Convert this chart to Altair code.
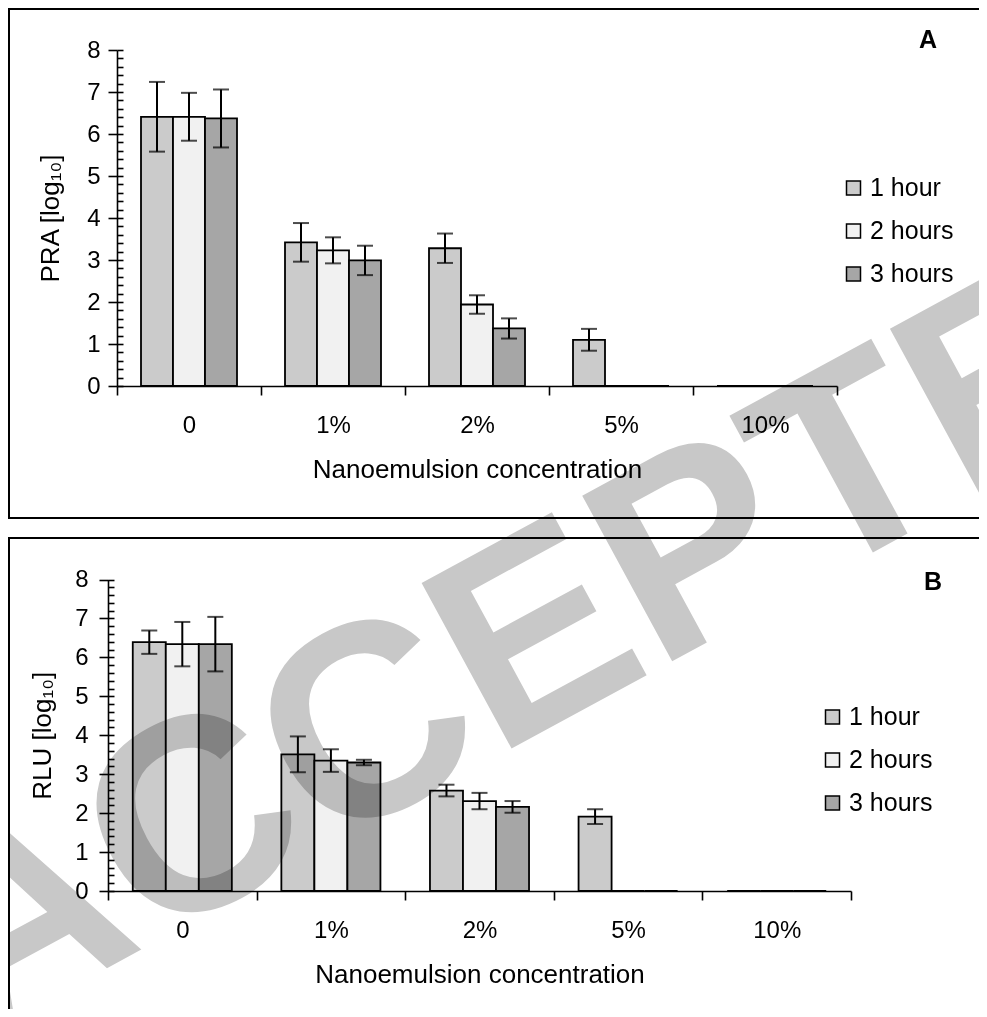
import altair as alt
import pandas as pd

# ---------------- data ----------------
conc = ["0", "1%", "2%", "5%", "10%"]
hours = ["1 hour", "2 hours", "3 hours"]

pra_1h = [6.41, 3.42, 3.28, 1.10, 0.0]
pra_2h = [6.41, 3.23, 1.94, 0.0, 0.0]
pra_3h = [6.37, 2.99, 1.37, 0.0, 0.0]
pra_err_1h = [0.83, 0.46, 0.35, 0.26, None]
pra_err_2h = [0.57, 0.31, 0.22, None, None]
pra_err_3h = [0.69, 0.35, 0.24, None, None]

rlu_1h = [6.39, 3.51, 2.58, 1.91, 0.0]
rlu_2h = [6.34, 3.35, 2.31, 0.0, 0.0]
rlu_3h = [6.34, 3.30, 2.16, 0.0, 0.0]
rlu_err_1h = [0.30, 0.46, 0.15, 0.19, None]
rlu_err_2h = [0.57, 0.29, 0.21, None, None]
rlu_err_3h = [0.70, 0.07, 0.15, None, None]

y_ticks = [0, 1, 2, 3, 4, 5, 6, 7, 8]
fills = ["#cbcbcb", "#f1f1f1", "#a6a6a6"]
FONT = "Liberation Sans"

W, H = 971, 1001


def frame(vals, errs):
    rows = []
    for h, vs, es in zip(hours, vals, errs):
        for c, v, e in zip(conc, vs, es):
            rows.append({
                "conc": c, "hours": h, "value": v,
                "lo": (v - e) if e is not None else None,
                "hi": (v + e) if e is not None else None,
            })
    return pd.DataFrame(rows)


df_a = frame([pra_1h, pra_2h, pra_3h], [pra_err_1h, pra_err_2h, pra_err_3h])
df_b = frame([rlu_1h, rlu_2h, rlu_3h], [rlu_err_1h, rlu_err_2h, rlu_err_3h])


def panel(df, xr, yr, x_off, y_off, ytitle, ylabpad, ytitlepad, legx, legy):
    base = alt.Chart(df)
    xs = alt.Scale(range=xr, paddingInner=0, paddingOuter=0)
    xo = alt.XOffset("hours:N", sort=hours,
                     scale=alt.Scale(paddingOuter=0.75, paddingInner=0))
    bars = base.mark_bar(stroke="black", strokeWidth=1.8).encode(
        x=alt.X("conc:N", sort=conc, scale=xs,
                axis=alt.Axis(orient="bottom", offset=x_off, tickBand="extent",
                              tickSize=9, labelAngle=0, labelPadding=18,
                              labelFontSize=24, title="Nanoemulsion concentration",
                              titleFontSize=26, titlePadding=19)),
        xOffset=xo,
        y=alt.Y("value:Q",
                scale=alt.Scale(domain=[0, 8], range=yr, nice=False, zero=True),
                axis=alt.Axis(orient="left", offset=y_off, values=y_ticks,
                              tickSize=9, labelPadding=ylabpad, labelFontSize=24,
                              title=ytitle, titleFontSize=26,
                              titlePadding=ytitlepad)),
        fill=alt.Fill("hours:N", sort=hours,
                      scale=alt.Scale(domain=hours, range=fills),
                      legend=alt.Legend(title=None, orient="none", direction="vertical",
                                        legendX=legx, legendY=legy,
                                        symbolType="square", symbolSize=196,
                                        symbolStrokeColor="black",
                                        symbolStrokeWidth=1.5,
                                        labelFontSize=25, labelOffset=4,
                                        rowPadding=17, padding=0)),
    )
    ok = base.transform_filter("isValid(datum.lo)")
    err = ok.mark_rule(color="black", strokeWidth=2).encode(
        x=alt.X("conc:N", sort=conc, axis=None),
        xOffset=xo,
        y=alt.Y("lo:Q",
                axis=alt.Axis(orient="right", offset=xr[0] - W, tickCount=40,
                              labels=False, domain=False, tickSize=6,
                              title=None, grid=False)),
        y2="hi:Q",
    )
    cap_lo = ok.mark_tick(color="black", thickness=2, size=16,
                          orient="horizontal").encode(
        x=alt.X("conc:N", sort=conc, axis=None), xOffset=xo,
        y=alt.Y("lo:Q", axis=None))
    cap_hi = ok.mark_tick(color="black", thickness=2, size=16,
                          orient="horizontal").encode(
        x=alt.X("conc:N", sort=conc, axis=None), xOffset=xo,
        y=alt.Y("hi:Q", axis=None))
    return alt.layer(bars, err, cap_lo, cap_hi).resolve_axis(
        x="independent", y="independent")


panel_a = panel(df_a, [109, 829], [378, 42], 378 - H, -109,
                "PRA [log₁₀]", 8, 23, 833, 167.5)
panel_b = panel(df_b, [100, 843], [883, 571.5], 883 - H, -100,
                "RLU [log₁₀]", 11, 19, 812, 696.5)

one = pd.DataFrame({"k": [0]})
box_a = alt.Chart(one).mark_rect(fill=None, stroke="black", strokeWidth=2).encode(
    x=alt.value(1), x2=alt.value(W + 20), y=alt.value(1), y2=alt.value(510))
box_b = alt.Chart(one).mark_rect(fill=None, stroke="black", strokeWidth=2).encode(
    x=alt.value(1), x2=alt.value(W + 20), y=alt.value(530), y2=alt.value(H + 20))

lab_a = alt.Chart(pd.DataFrame({"t": ["A"]})).mark_text(
    fontSize=25, fontWeight="bold", align="center", baseline="middle",
    color="black").encode(text="t:N", x=alt.value(920), y=alt.value(32))
lab_b = alt.Chart(pd.DataFrame({"t": ["B"]})).mark_text(
    fontSize=25, fontWeight="bold", align="center", baseline="middle",
    color="black").encode(text="t:N", x=alt.value(925), y=alt.value(574))

watermark = alt.Chart(pd.DataFrame({"w": ["ACCEPTED"]})).mark_text(
    fontSize=274, fontWeight="bold", angle=331.5, color="#c8c8c8",
    blend="multiply", align="center", baseline="alphabetic").encode(
    text="w:N", x=alt.value(628), y=alt.value(673))

chart = alt.layer(box_a, box_b, panel_a, panel_b, lab_a, lab_b, watermark).resolve_scale(
    x="independent", y="independent", xOffset="independent", fill="independent"
).resolve_legend(fill="independent").properties(
    width=W, height=H, padding=0,
    autosize=alt.AutoSizeParams(type="none"),
).configure_view(stroke=None).configure_axis(
    domainColor="black", domainWidth=1.6, tickColor="black", tickWidth=1.6,
    labelColor="black", titleColor="black", titleFontWeight="normal",
    labelFont=FONT, titleFont=FONT, grid=False,
).configure_legend(labelFont=FONT, labelColor="black").configure_text(font=FONT)

chart.save("out.html", embed_options={"renderer": "svg", "actions": False})
